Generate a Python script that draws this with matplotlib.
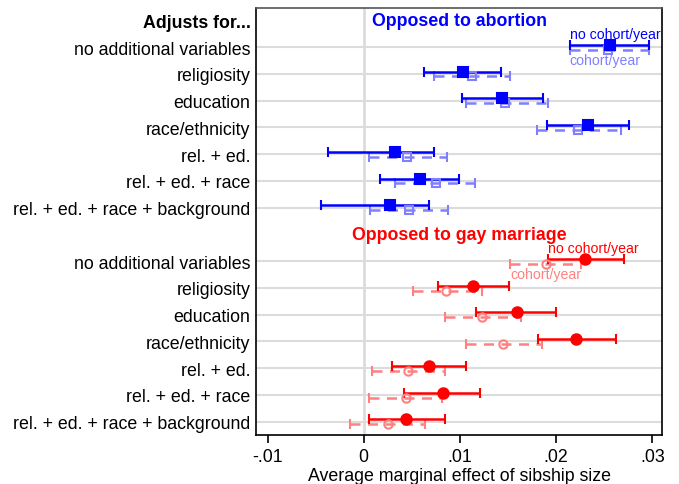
import numpy as np
import matplotlib
matplotlib.use("Agg")
import matplotlib.pyplot as plt

plt.rcParams['font.family'] = ['Liberation Sans', 'DejaVu Sans']

models = ["no additional variables", "religiosity", "education", "race/ethnicity",
          "rel. + ed.", "rel. + ed. + race", "rel. + ed. + race + background"]

# opposed to abortion: no cohort/year (solid) and cohort/year (dashed)
ab_pt = [0.0256, 0.0103, 0.0144, 0.0233, 0.0032, 0.0058, 0.0027]
ab_lo = [0.0214, 0.0063, 0.0102, 0.0190, -0.0037, 0.0017, -0.0044]
ab_hi = [0.0296, 0.0143, 0.0186, 0.0276, 0.0073, 0.0099, 0.0068]
abc_pt = [0.0254, 0.0113, 0.0147, 0.0223, 0.0045, 0.0075, 0.0047]
abc_lo = [0.0214, 0.0073, 0.0106, 0.0180, 0.0005, 0.0033, 0.0006]
abc_hi = [0.0296, 0.0152, 0.0191, 0.0267, 0.0087, 0.0116, 0.0088]

# opposed to gay marriage
gm_pt = [0.0230, 0.0114, 0.0159, 0.0221, 0.0068, 0.0082, 0.0044]
gm_lo = [0.0192, 0.0077, 0.0117, 0.0181, 0.0029, 0.0042, 0.0005]
gm_hi = [0.0270, 0.0151, 0.0200, 0.0262, 0.0106, 0.0121, 0.0084]
gmc_pt = [0.0189, 0.0086, 0.0123, 0.0145, 0.0046, 0.0044, 0.0025]
gmc_lo = [0.0152, 0.0051, 0.0084, 0.0106, 0.0009, 0.0005, -0.0014]
gmc_hi = [0.0226, 0.0123, 0.0163, 0.0185, 0.0084, 0.0081, 0.0064]

xticks = [-0.01, 0, 0.01, 0.02, 0.03]
xticklabels = ["-.01", "0", ".01", ".02", ".03"]

BLUE, LBLUE = "#0000ff", "#8080ff"
RED, LRED = "#ff0000", "#ff8080"

fig = plt.figure(figsize=(6.79, 4.85), dpi=100)
ax = fig.add_axes([0.377, 0.101, 0.598, 0.880])

rows_ab = np.arange(1, 8)
rows_gm = np.arange(9, 16)

for r in list(rows_ab) + list(rows_gm):
    ax.axhline(r, color="#dcdcdc", lw=1.5, zorder=0)
ax.axvline(0, color="#dcdcdc", lw=2, zorder=0)


def draw(rows, pt, lo, hi, color, marker, dashed, fill):
    pt, lo, hi = np.array(pt), np.array(lo), np.array(hi)
    err = [pt - lo, hi - pt]
    ms = 7.5 if fill else 6
    eb = ax.errorbar(pt, rows, xerr=err, fmt="none", ecolor=color,
                     elinewidth=1.8, capsize=3.5, capthick=1.5, zorder=2)
    if dashed:
        eb[2][0].set_linestyle((0, (4, 3)))
    ax.plot(pt, rows, linestyle="none", marker=marker, markersize=ms,
            markerfacecolor=color if fill else "none",
            markeredgecolor=color, markeredgewidth=1.5, zorder=3)


off_solid, off_dash = -0.08, 0.10
draw(rows_ab + off_dash, abc_pt, abc_lo, abc_hi, LBLUE, "s", True, False)
draw(rows_ab + off_solid, ab_pt, ab_lo, ab_hi, BLUE, "s", False, True)
draw(rows_gm + off_dash, gmc_pt, gmc_lo, gmc_hi, LRED, "o", True, False)
draw(rows_gm + off_solid, gm_pt, gm_lo, gm_hi, RED, "o", False, True)

ax.text(0.0009, 0.0, "Opposed to abortion", color=BLUE, fontsize=12.8,
        fontweight="bold", va="center", ha="left")
ax.text(-0.0012, 8.0, "Opposed to gay marriage", color=RED, fontsize=12.8,
        fontweight="bold", va="center", ha="left")

ax.text(ab_lo[0], 0.52, "no cohort/year", color=BLUE, fontsize=10.2, va="center", ha="left")
ax.text(abc_lo[0], 1.47, "cohort/year", color=LBLUE, fontsize=10.2, va="center", ha="left")
ax.text(gm_lo[0], 8.52, "no cohort/year", color=RED, fontsize=10.2, va="center", ha="left")
ax.text(gmc_lo[0], 9.47, "cohort/year", color=LRED, fontsize=10.2, va="center", ha="left")

ax.set_xlim(-0.0112, 0.031)
ax.set_ylim(15.5, -0.45)

ytick_pos = [0] + list(rows_ab) + list(rows_gm)
ytick_lab = ["Adjusts for..."] + models + models
ax.set_yticks(ytick_pos)
ax.set_yticklabels(ytick_lab, fontsize=12.8)
ax.get_yticklabels()[0].set_fontweight("bold")
ax.tick_params(axis="y", length=0, pad=4)

ax.set_xticks(xticks)
ax.set_xticklabels(xticklabels, fontsize=12.8)
ax.tick_params(axis="x", length=6, width=1.2, direction="out", pad=3)
ax.set_xlabel("Average marginal effect of sibship size", fontsize=12.8, labelpad=2)

for s in ax.spines.values():
    s.set_linewidth(1.2)
    s.set_color("black")
ax.spines["top"].set_color("#555555")

fig.savefig("out.png", dpi=100)
